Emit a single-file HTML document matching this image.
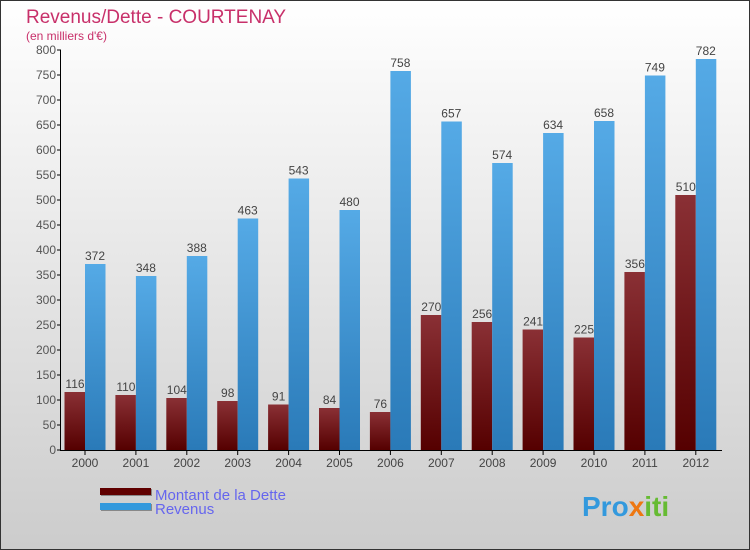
<!DOCTYPE html>
<html><head><meta charset="utf-8"><style>
body{margin:0}
svg{display:block;font-family:"Liberation Sans",sans-serif}
</style></head><body>
<svg width="750" height="550" viewBox="0 0 750 550">
<defs>
<linearGradient id="bg" x1="0" y1="0" x2="0" y2="1"><stop offset="0" stop-color="#ffffff"/><stop offset="1" stop-color="#cccccc"/></linearGradient>
<linearGradient id="gd" x1="0" y1="0" x2="0" y2="1"><stop offset="0" stop-color="#8a3035"/><stop offset="1" stop-color="#550000"/></linearGradient>
<linearGradient id="gr" x1="0" y1="0" x2="0" y2="1"><stop offset="0" stop-color="#55aae6"/><stop offset="1" stop-color="#2a7ab8"/></linearGradient>
</defs>
<rect x="0.5" y="0.5" width="749" height="549" fill="url(#bg)" stroke="#333"/>
<text x="26" y="23" font-size="19" fill="#c8306a">Revenus/Dette - COURTENAY</text>
<text x="26" y="40" font-size="12" fill="#c8306a">(en milliers d'€)</text>
<g id="grid"></g>
<g id="bars"></g>
<g id="axes"></g>
<g>
<rect x="101" y="489" width="51" height="7" fill="#888"/><rect x="100" y="488" width="51" height="7" fill="#600000"/>
<text x="155" y="500" font-size="15" fill="#6666ee">Montant de la Dette</text>
<rect x="101" y="504" width="51" height="7" fill="#888"/><rect x="100" y="503" width="51" height="7" fill="#3399dd"/>
<text x="155" y="514" font-size="15" fill="#6666ee">Revenus</text>
</g>
<text x="582" y="516" font-size="28" font-weight="bold"><tspan fill="#3399dd">Pro</tspan><tspan fill="#ee7711">x</tspan><tspan fill="#66bb33">iti</tspan></text>
</svg>
<script>
const years=["2000","2001","2002","2003","2004","2005","2006","2007","2008","2009","2010","2011","2012"];
const debt=[116,110,104,98,91,84,76,270,256,241,225,356,510];
const revenue=[372,348,388,463,543,480,758,657,574,634,658,749,782];
const yTicks=[0,50,100,150,200,250,300,350,400,450,500,550,600,650,700,750,800];
const NS="http://www.w3.org/2000/svg";
const y=v=>450-v*0.5;
const xc=i=>85+i*50.9;
function mk(tag,attrs,parent,text){const e=document.createElementNS(NS,tag);for(const k in attrs)e.setAttribute(k,attrs[k]);if(text!==undefined)e.textContent=text;parent.appendChild(e);return e;}
const bars=document.getElementById('bars'),axes=document.getElementById('axes');
years.forEach((yr,i)=>{
  const d=mk('rect',{x:xc(i)-20.5,y:y(debt[i]),width:20.5,height:450-y(debt[i]),fill:'url(#gd)'},bars);
  
  
  const r=mk('rect',{x:xc(i),y:y(revenue[i]),width:20.5,height:450-y(revenue[i]),fill:'url(#gr)'},bars);
  
  
  const dl=mk('text',{x:xc(i)-10,y:y(debt[i])-4,'font-size':12,fill:'#444','text-anchor':'middle'},bars,debt[i]);
  
  
  const rl=mk('text',{x:xc(i)+10,y:y(revenue[i])-4,'font-size':12,fill:'#444','text-anchor':'middle'},bars,revenue[i]);
  
  
  mk('line',{x1:xc(i),x2:xc(i),y1:450,y2:455,stroke:'#000'},axes);
  const xl=mk('text',{x:xc(i),y:467,'font-size':12,fill:'#444','text-anchor':'middle'},axes,yr);
  
  
});
yTicks.forEach(t=>{
  mk('line',{x1:57,x2:61,y1:y(t),y2:y(t),stroke:'#000'},axes);
  const l=mk('text',{x:56,y:y(t)+4,'font-size':12,fill:'#555','text-anchor':'end'},axes,t);
  
  
});
const ya=mk('line',{x1:60.5,x2:60.5,y1:50,y2:450,stroke:'#000'},axes);


const xa=mk('line',{x1:60,x2:722,y1:450.5,y2:450.5,stroke:'#000'},axes);


</script>
</body></html>
